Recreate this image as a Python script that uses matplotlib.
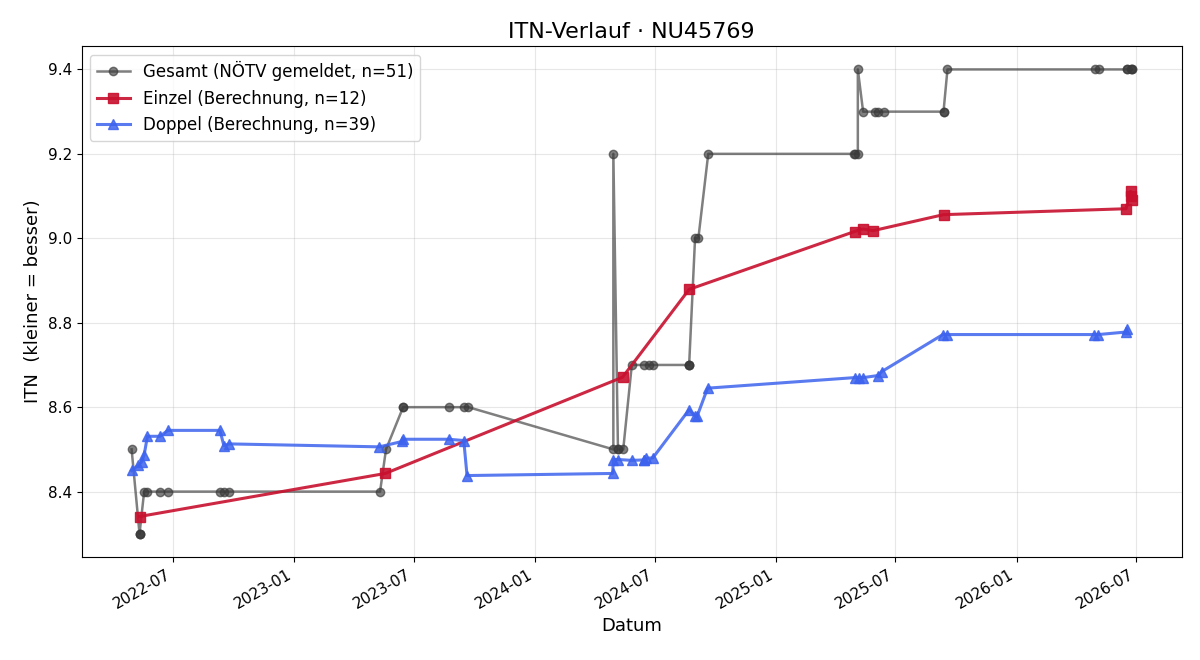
import numpy as np
import pandas as pd
import matplotlib
matplotlib.use("Agg")
import matplotlib.pyplot as plt
import matplotlib.dates as mdates

player = "NU45769"

# Gesamt (NÖTV gemeldet)
gesamt_dates = ["2022-04-29", "2022-05-11", "2022-05-11", "2022-05-18", "2022-05-23",
                "2022-06-11", "2022-06-23", "2022-09-10", "2022-09-16", "2022-09-24",
                "2023-05-11", "2023-05-20", "2023-06-15", "2023-06-15", "2023-08-24",
                "2023-09-15", "2023-09-22", "2024-04-29", "2024-04-29", "2024-05-06",
                "2024-05-06", "2024-05-14", "2024-05-27", "2024-06-14", "2024-06-22",
                "2024-06-28", "2024-08-22", "2024-08-22", "2024-08-31", "2024-09-05",
                "2024-09-20", "2025-04-29", "2025-04-30", "2025-05-05", "2025-05-05",
                "2025-05-13", "2025-05-31", "2025-06-05", "2025-06-13", "2025-09-12",
                "2025-09-12", "2025-09-18", "2026-04-30", "2026-05-06", "2026-06-17",
                "2026-06-17", "2026-06-23", "2026-06-25", "2026-06-25", "2022-05-11",
                "2024-08-22"]
gesamt_itn = [8.5, 8.3, 8.3, 8.4, 8.4,
              8.4, 8.4, 8.4, 8.4, 8.4,
              8.4, 8.5, 8.6, 8.6, 8.6,
              8.6, 8.6, 8.5, 9.2, 8.5,
              8.5, 8.5, 8.7, 8.7, 8.7,
              8.7, 8.7, 8.7, 9.0, 9.0,
              9.2, 9.2, 9.2, 9.2, 9.4,
              9.3, 9.3, 9.3, 9.3, 9.3,
              9.3, 9.4, 9.4, 9.4, 9.4,
              9.4, 9.4, 9.4, 9.4, 8.3,
              8.7]

# Einzel (Berechnung)
einzel_dates = ["2022-05-11", "2023-05-19", "2024-05-13", "2024-08-22", "2025-04-30",
                "2025-05-13", "2025-05-28", "2025-09-12", "2026-06-16", "2026-06-23",
                "2026-06-24", "2026-06-25"]
einzel_itn = [8.341, 8.443, 8.671, 8.879, 9.016,
              9.022, 9.018, 9.056, 9.070, 9.111,
              9.100, 9.091]

# Doppel (Berechnung)
doppel_dates = ["2022-04-29", "2022-05-09", "2022-05-14", "2022-05-18", "2022-05-23",
                "2022-06-11", "2022-06-23", "2022-09-10", "2022-09-16", "2022-09-24",
                "2023-05-10", "2023-06-14", "2023-06-15", "2023-08-23", "2023-09-15",
                "2023-09-20", "2024-04-28", "2024-04-29", "2024-05-06", "2024-05-27",
                "2024-06-14", "2024-06-14", "2024-06-18", "2024-06-28", "2024-08-22",
                "2024-08-31", "2024-09-03", "2024-09-19", "2025-04-30", "2025-05-07",
                "2025-05-13", "2025-06-05", "2025-06-10", "2025-09-11", "2025-09-17",
                "2026-04-29", "2026-05-05", "2026-06-16", "2026-06-17"]
doppel_itn = [8.450, 8.462, 8.470, 8.487, 8.531,
              8.531, 8.545, 8.545, 8.509, 8.513,
              8.506, 8.519, 8.524, 8.524, 8.521,
              8.438, 8.443, 8.476, 8.476, 8.474,
              8.475, 8.475, 8.479, 8.480, 8.594,
              8.580, 8.578, 8.645, 8.670, 8.670,
              8.670, 8.675, 8.684, 8.772, 8.772,
              8.772, 8.772, 8.778, 8.785]


def sorted_series(dates, vals):
    # stable sort by date, same-day points stay in list order
    d = pd.to_datetime(pd.Series(dates))
    order = np.argsort(d.values, kind="stable")
    return d.values[order], np.array(vals)[order]


g_x, g_y = sorted_series(gesamt_dates, gesamt_itn)
e_x, e_y = sorted_series(einzel_dates, einzel_itn)
d_x, d_y = sorted_series(doppel_dates, doppel_itn)

fig, ax = plt.subplots(figsize=(12, 6.6), dpi=100)

ax.plot(g_x, g_y, marker="o", color="#3a3a3a", alpha=0.65, lw=1.8, ms=6,
        label=f"Gesamt (NÖTV gemeldet, n={len(gesamt_itn)})")
ax.plot(e_x, e_y, marker="s", color="#c8102e", alpha=0.9, lw=2.2, ms=7,
        label=f"Einzel (Berechnung, n={len(einzel_itn)})")
ax.plot(d_x, d_y, marker="^", color="#3d63ee", alpha=0.85, lw=2.2, ms=7,
        label=f"Doppel (Berechnung, n={len(doppel_itn)})")

ax.set_title(f"ITN-Verlauf · {player}", fontsize=16)
ax.set_xlabel("Datum", fontsize=13)
ax.set_ylabel("ITN  (kleiner = besser)", fontsize=13)
ax.grid(True, alpha=0.3)
ax.legend(loc="upper left", fontsize=12)

ax.xaxis.set_major_locator(mdates.MonthLocator(bymonth=[1, 7]))
ax.xaxis.set_major_formatter(mdates.DateFormatter("%Y-%m"))
ax.tick_params(labelsize=11)
fig.autofmt_xdate()

fig.subplots_adjust(left=0.068, right=0.985, top=0.93, bottom=0.156)
fig.savefig("out.png", dpi=100)
